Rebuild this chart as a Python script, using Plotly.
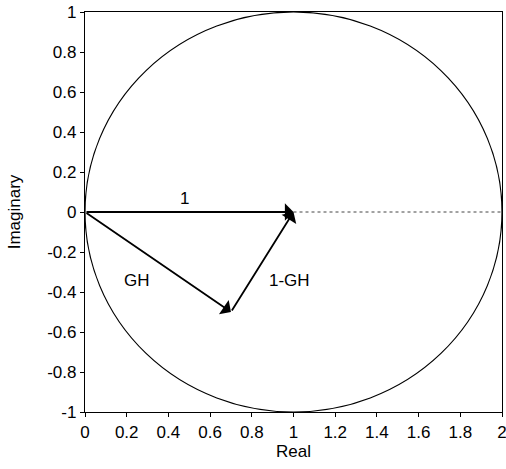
import plotly.graph_objects as go

# Data
vector_names = ["1", "GH", "1-GH"]
vec_start_x = [0.0, 0.0, 0.7]
vec_start_y = [0.0, 0.0, -0.5]
vec_end_x = [1.0, 0.7, 1.0]
vec_end_y = [0.0, -0.5, 0.0]
label_x = [0.475, 0.25, 0.98]
label_y = [0.07, -0.34, -0.34]
dotted_x = [1.0, 2.0]
dotted_y = [0.0, 0.0]
circle_bounds = [0.0, -1.0, 2.0, 1.0]  # x0, y0, x1, y1
x_ticks = [0, 0.2, 0.4, 0.6, 0.8, 1, 1.2, 1.4, 1.6, 1.8, 2]
y_ticks = [-1, -0.8, -0.6, -0.4, -0.2, 0, 0.2, 0.4, 0.6, 0.8, 1]

FONT = "Liberation Sans, Arial, sans-serif"

fig = go.Figure()

fig.add_trace(go.Scatter(x=dotted_x, y=dotted_y, mode="lines",
                         line=dict(color="#444", width=1, dash="dot"),
                         hoverinfo="skip", showlegend=False))

fig.add_shape(type="circle", xref="x", yref="y",
              x0=circle_bounds[0], y0=circle_bounds[1],
              x1=circle_bounds[2], y1=circle_bounds[3],
              line=dict(color="black", width=1.2))

for sx, sy, ex, ey in zip(vec_start_x, vec_start_y, vec_end_x, vec_end_y):
    fig.add_annotation(x=ex, y=ey, ax=sx, ay=sy, xref="x", yref="y",
                       axref="x", ayref="y", text="", showarrow=True,
                       arrowhead=1, arrowsize=1.6, arrowwidth=1.8,
                       arrowcolor="black", standoff=0, startstandoff=0)

for t, lx, ly in zip(vector_names, label_x, label_y):
    fig.add_annotation(x=lx, y=ly, xref="x", yref="y", text=t, showarrow=False,
                       font=dict(size=17, color="black", family=FONT))

axis_common = dict(showgrid=False, zeroline=False, showline=True, linecolor="black",
                   linewidth=1.3, mirror=True, ticks="outside", ticklen=4,
                   tickcolor="black", tickfont=dict(size=17, color="black", family=FONT),
                   ticklabeloverflow="allow", automargin=False)

fig.update_xaxes(range=[0, 2], tickvals=x_ticks, ticktext=[f"{v:g}" for v in x_ticks],
                 title=dict(text="Real", font=dict(size=17, color="black", family=FONT), standoff=0),
                 **axis_common)
fig.update_yaxes(range=[-1, 1], tickvals=y_ticks, ticktext=[f"{v:g}" for v in y_ticks],
                 title=dict(text="Imaginary", font=dict(size=17, color="black", family=FONT), standoff=22),
                 **axis_common)

fig.update_layout(width=506, height=469, plot_bgcolor="white", paper_bgcolor="white",
                  margin=dict(l=85, r=4, t=12, b=57),
                  font=dict(family=FONT, color="black"),
                  showlegend=False)

fig.write_html("out.html")
